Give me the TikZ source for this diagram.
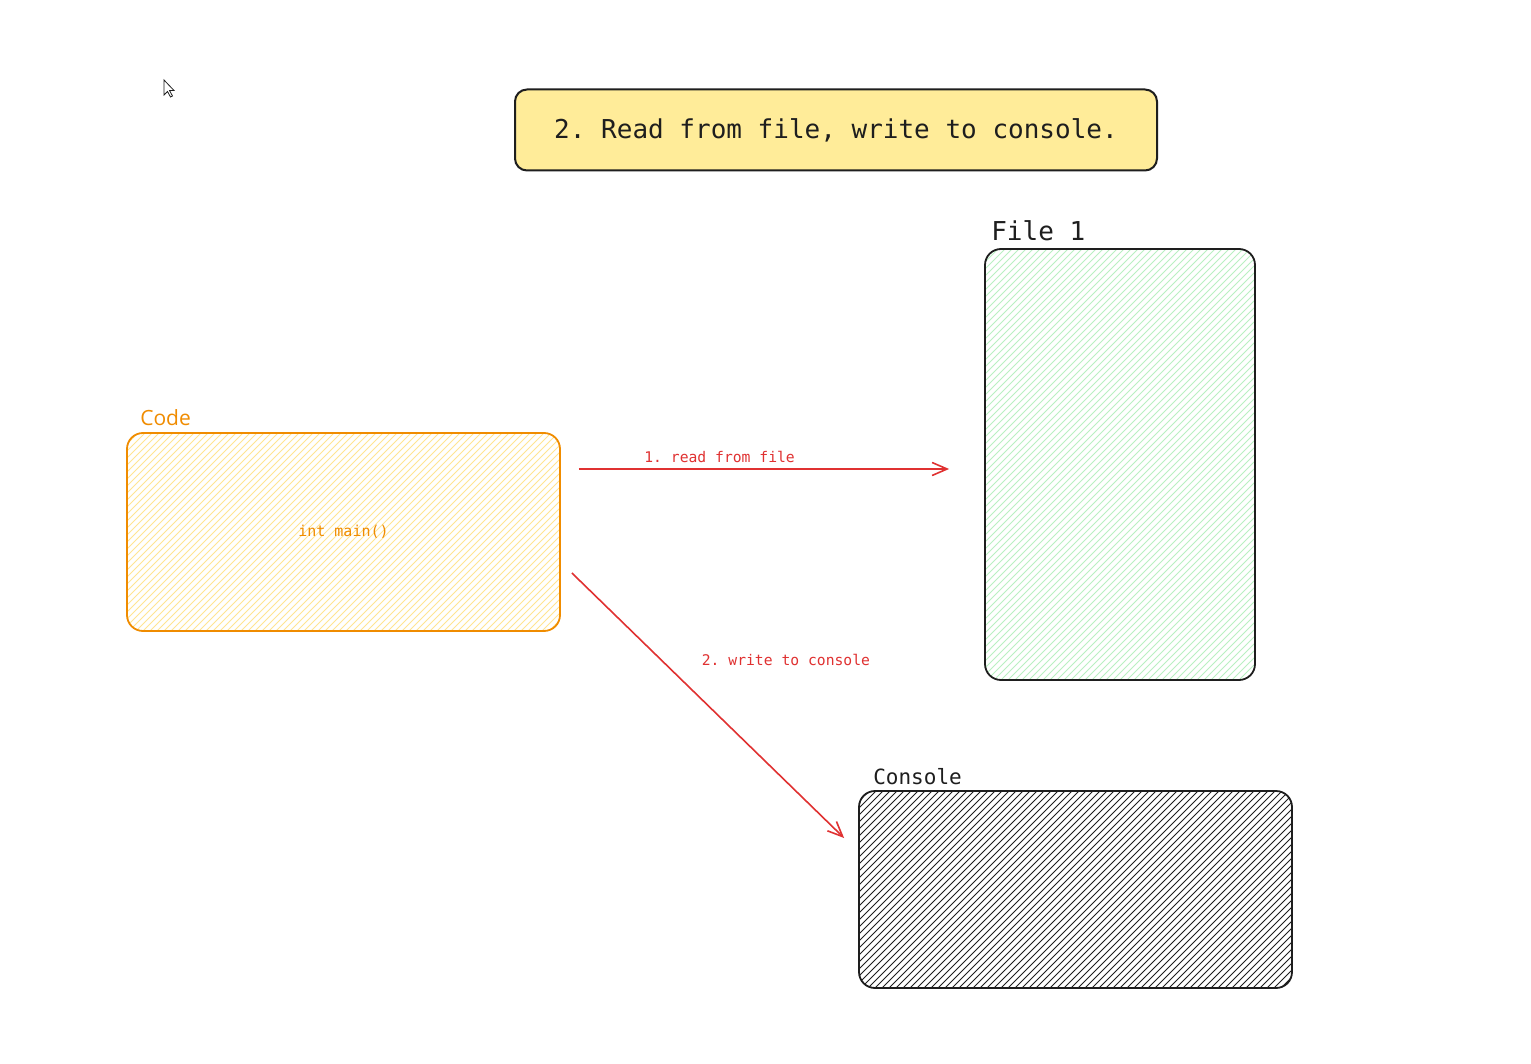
\documentclass[tikz,border=0pt]{standalone}
\usepackage{fontspec}
\setmainfont{Open Sans}
\setmonofont{DejaVu Sans Mono}
\usetikzlibrary{arrows.meta,positioning}
\definecolor{inkblack}{HTML}{1E1E1E}
\definecolor{codeorange}{HTML}{F08C00}
\definecolor{noteyellow}{HTML}{FFEC99}
\definecolor{hatchyellow}{HTML}{FFE592}
\definecolor{hatchgreen}{HTML}{B9F0C2}
\definecolor{arrowred}{HTML}{E03131}
\tikzset{hatch/.style={path picture={\foreach \k in {0,...,130}{\draw[#1,line width=1pt] ([xshift=\k*7pt-460pt]path picture bounding box.south west) -- ++(470pt,470pt);}}}}
\begin{document}
\begin{tikzpicture}[x=1pt,y=-1pt,>={Straight Barb[length=15pt,width=13pt]},
  box/.style={draw=inkblack,line width=1.8pt,rounded corners=16pt,inner sep=0pt},
  tag/.style={anchor=south west,inner sep=2pt,font=\ttfamily\fontsize{21}{25}\selectfont,text=inkblack},
  flow/.style={->,draw=arrowred,line width=1.6pt},
  flowlabel/.style={font=\ttfamily\fontsize{14.7}{18}\selectfont,text=arrowred}]
\useasboundingbox[fill=white] (0,0) rectangle (1531,1064);
% pointer
\draw[inkblack,fill=white,line width=0.8pt] (164,80) -- (164,95) -- (167.5,91.5) -- (170.5,97) -- (172.5,96) -- (169.5,90.5) -- (174,90.5) -- cycle;
% title
\node[box,line width=2pt,rounded corners=12pt,fill=noteyellow,minimum width=642pt,minimum height=81pt,font=\ttfamily\fontsize{26}{30}\selectfont,text=inkblack] (title) at (836,130) {2. Read from file, write to console.};
% code
\node[box,draw=codeorange,hatch=hatchyellow,minimum width=433pt,minimum height=198pt,text=codeorange,font=\ttfamily\fontsize{15}{18}\selectfont] (code) at (343.5,532) {int main()};
\node[tag,font=\fontsize{21}{24}\selectfont,text=codeorange] (codetag) at ([xshift=12pt,yshift=4pt]code.north west) {Code};
% file
\node[box,hatch=hatchgreen,minimum width=270pt,minimum height=431pt] (file) at (1120,464.5) {};
\node[tag,font=\ttfamily\fontsize{26}{30}\selectfont] (filetag) at ([xshift=5pt,yshift=5pt]file.north west) {File 1};
% console
\node[box,hatch=inkblack,minimum width=433pt,minimum height=197pt] (console) at (1075.5,889.5) {};
\node[tag] (consoletag) at ([xshift=13pt,yshift=3pt]console.north west) {Console};
% arrows
\coordinate (readstart) at ([xshift=18pt,yshift=63pt]code.east);
\coordinate (readend) at ([xshift=-35pt,yshift=-4.5pt]file.west);
\coordinate (writestart) at ([xshift=11pt,yshift=-41pt]code.east);
\coordinate (writeend) at ([xshift=-14pt,yshift=51.5pt]console.west);
\draw[flow] (readstart) -- node[flowlabel,pos=0.38,above,inner sep=5pt] (readlabel) {1. read from file} (readend);
\draw[flow] (writestart) -- node[flowlabel,pos=0.33,anchor=west,xshift=36pt] (writelabel) {2. write to console} (writeend);
\end{tikzpicture}
\end{document}
